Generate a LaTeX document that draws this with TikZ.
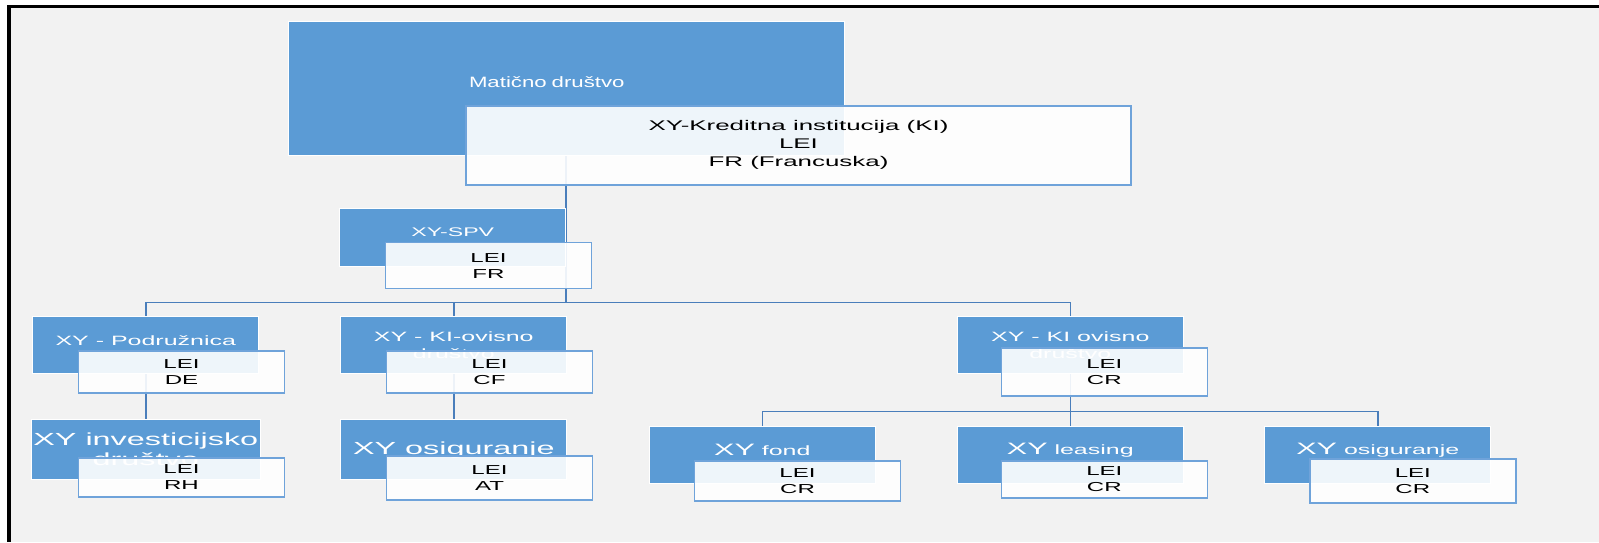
\documentclass[tikz,border=0pt]{standalone}
\usepackage{fontspec}
\setmainfont{Liberation Sans}[FakeStretch=1.85]
\newfontfamily\matfont{Liberation Sans}[FakeStretch=1.48]
\usetikzlibrary{calc}
\pgfdeclarelayer{back}
\pgfdeclarelayer{lines}
\pgfsetlayers{back,lines,main}
\definecolor{bggray}{HTML}{F2F2F2}
\definecolor{boxblue}{HTML}{5B9BD5}
\definecolor{edgeblue}{HTML}{6FA3DA}
\definecolor{connblue}{HTML}{4A7EBB}
\newcommand{\xyl}{{\fontsize{16.5}{18}\selectfont XY}}

\begin{document}
\begin{tikzpicture}[x=1pt,y=-1pt,
  unit/.style={fill=boxblue, draw=white, line width=0.8pt, text=white, align=center,
    inner sep=2pt, minimum width=226pt, minimum height=57pt,
    font=\fontsize{13.5}{16.5}\selectfont},
  info/.style={fill=white, fill opacity=0.9, text opacity=1, draw=edgeblue, line width=1.5pt,
    text=black, align=center, inner sep=2pt, minimum width=206pt, minimum height=42pt,
    font=\fontsize{13}{16}\selectfont},
  conn/.style={draw=connblue, line width=1.5pt}]
  \useasboundingbox (0,0) rectangle (1599,542);

  % top of the chart
  \node[unit, minimum width=556pt, minimum height=134pt, text width=194pt, align=left,
    text depth=12pt, font=\matfont\fontsize{15}{18}\selectfont] (mat) at (566,88) {Matično društvo};
  \node[info, minimum width=665pt, minimum height=79pt, font=\fontsize{14}{18}\selectfont]
    (ki) at ($(mat.center)+(232.5,57.3)$) {XY-Kreditna institucija (KI)\\LEI\\FR (Francuska)};

  \node[unit, minimum height=58pt, text depth=10pt, font=\fontsize{12.5}{15}\selectfont] (spv) at (452.8,237) {XY-SPV};
  \node[info, minimum height=46pt] (spvi) at ($(spv.center)+(35.7,28.6)$) {LEI\\FR};

  % second row
  \node[unit, text depth=8pt] (pod) at (145.8,345) {XY - Podružnica};
  \node[info] (podi) at ($(pod.center)+(35.7,27.2)$) {LEI\\DE};
  \node[unit] (kio) at (453.8,345) {XY - KI-ovisno\\društvo};
  \node[info] (kioi) at ($(kio.center)+(35.7,27.2)$) {LEI\\CF};
  \node[unit, yshift=0pt] (kir) at (1070.3,345) {XY - KI ovisno\\društvo};
  \node[info, minimum height=48pt] (kiri) at ($(kir.center)+(34,27)$) {LEI\\CR};

  % third row
  \node[unit, minimum height=60pt, font=\fontsize{17.5}{20}\selectfont] (inv) at (145.8,449) {XY investicijsko\\društvo};
  \node[info, minimum height=39pt] (invi) at ($(inv.center)+(35.7,28.3)$) {LEI\\RH};
  \node[unit, minimum height=60pt, font=\fontsize{17.5}{20}\selectfont] (osl) at (453.8,449.6) {XY osiguranje};
  \node[info, minimum height=44pt] (osli) at ($(osl.center)+(35.7,28.2)$) {LEI\\AT};

  \node[unit, text depth=10pt] (fond) at (762.3,455) {\xyl{} fond};
  \node[info, minimum height=40pt] (fondi) at ($(fond.center)+(35.2,26)$) {LEI\\CR};
  \node[unit, text depth=12.5pt] (leas) at (1070.3,455) {\xyl{} leasing};
  \node[info, minimum height=37pt] (leasi) at ($(leas.center)+(34,24.4)$) {LEI\\CR};
  \node[unit, text depth=12.5pt] (osr) at (1377.8,455) {\xyl{} osiguranje};
  \node[info, minimum height=44pt] (osri) at ($(osr.center)+(35,26)$) {LEI\\CR};

  % connectors
  \begin{pgfonlayer}{lines}
    \draw[conn] (mat.south) -- ++(0,147) coordinate (hub);
    \draw[conn] (pod.north) |- (hub) -| (kir.north);
    \draw[conn] (kio.north) -- (kio.north |- hub);
    \draw[conn] (pod.south) -- (inv.north);
    \draw[conn] (kio.south) -- (osl.north);
    \draw[conn] (kir.south) -- ++(0,37.5) coordinate (subhub);
    \draw[conn] (fond.north) |- (subhub) -| (osr.north);
    \draw[conn] (leas.north) -- (subhub);
  \end{pgfonlayer}

  % slide background and frame
  \begin{pgfonlayer}{back}
    \fill[white] (0,0) rectangle (1599,542);
    \fill[bggray] (10.7,8.4) rectangle (1599,542);
    \fill[black] (7,4.5) rectangle (1599,8.4);
    \fill[black] (7,4.5) rectangle (10.7,542);
  \end{pgfonlayer}
\end{tikzpicture}
\end{document}
